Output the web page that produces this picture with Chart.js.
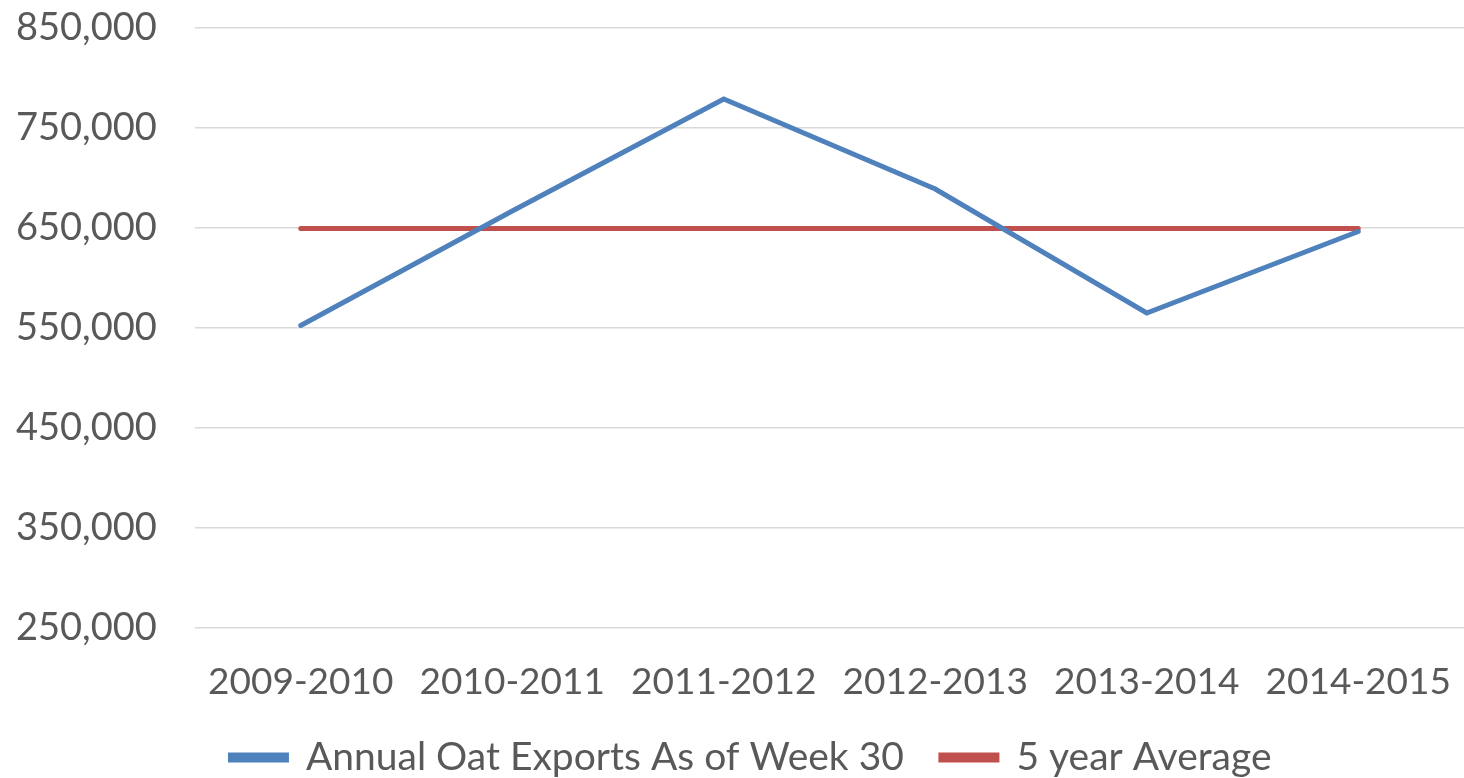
<!DOCTYPE html>
<html>
<head>
<meta charset="utf-8">
<script src="https://cdn.jsdelivr.net/npm/chart.js@4/dist/chart.umd.min.js"></script>
<style>
  html, body { margin: 0; padding: 0; background: #fff; }
  .chart { width: 1464px; height: 778px; position: relative; }
</style>
</head>
<body>
<div class="chart"><canvas id="oatChart"></canvas></div>
<script>
// marketing years
const seasons = ['2009-2010', '2010-2011', '2011-2012', '2012-2013', '2013-2014', '2014-2015']
const oatExports = [552500, 667000, 779000, 689000, 565000, 646500]
const fiveYearAvg = [649500, 649500, 649500, 649500, 649500, 649500]
const yTicks = [250000, 350000, 450000, 550000, 650000, 750000, 850000]

const blue = '#4F81BD'
const red = '#C0504D'
const textGrey = '#595959'

Chart.defaults.font.family = 'Lato, "Open Sans", sans-serif'
Chart.defaults.font.size = 37
Chart.defaults.color = textGrey

const ctx = document.getElementById('oatChart')
const myChart = new Chart(ctx, {
    type: 'line',
    data: {
        labels: seasons,
        datasets: [{
            label: 'Annual Oat Exports As of Week 30',
            data: oatExports,
            borderColor: blue,
            backgroundColor: blue,
            borderWidth: 5,
            borderCapStyle: 'round',
            borderJoinStyle: 'miter',
            pointRadius: 0,
            tension: 0,
            fill: false
        }, {
            label: '5 year Average',
            data: fiveYearAvg,
            borderColor: red,
            backgroundColor: red,
            borderWidth: 5,
            borderCapStyle: 'round',
            pointRadius: 0,
            tension: 0,
            fill: false
        }]
    },
    options: {
        responsive: true,
        maintainAspectRatio: false,
        animation: false,
        layout: { padding: { left: 38, right: 0, top: 28, bottom: -9 } },
        plugins: {
            tooltip: { enabled: false },
            legend: {
                position: 'bottom',
                labels: {
                    boxWidth: 56,
                    boxHeight: 5,
                    padding: 37,
                    color: textGrey,
                    font: { size: 39 }
                }
            }
        },
        scales: {
            x: {
                offset: true,
                grid: { display: false, drawTicks: false },
                border: { display: false },
                ticks: { padding: 36, maxRotation: 0, autoSkip: false, font: { size: 37, lineHeight: 1 } },
                afterFit: (axis) => {
                    axis.height = 73
                    axis.paddingLeft = 0
                    axis.paddingRight = 0
                }
            },
            y: {
                min: 250000,
                max: 850000,
                afterBuildTicks: (axis) => { axis.ticks = yTicks.map(v => ({ value: v })) },
                afterFit: (axis) => {
                    axis.width = 157
                    axis.paddingTop = 0
                    axis.paddingBottom = 0
                },
                grid: { color: '#D9D9D9', lineWidth: 1.5, drawTicks: false },
                border: { display: false },
                ticks: {
                    // mirrored so the labels are not clipped, pulled back left of the plot
                    mirror: true,
                    padding: -179,
                    font: { size: 38 },
                    callback: (v) => v.toLocaleString('en-US')
                }
            }
        }
    }
})
</script>
</body>
</html>
